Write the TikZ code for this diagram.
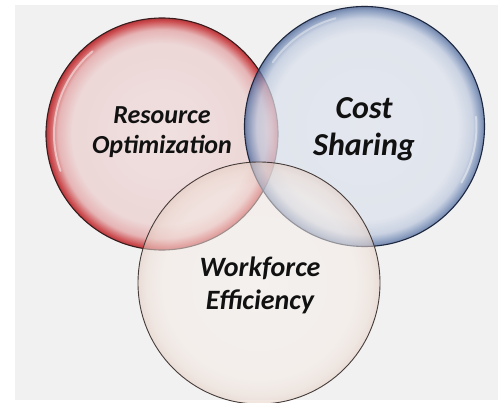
\documentclass[tikz,border=0pt]{standalone}
\usepackage{fontspec}
\setmainfont{Carlito}
\definecolor{pagegrey}{HTML}{F1F1F1}
\definecolor{inktext}{HTML}{111111}
% red bubble
\definecolor{redA}{HTML}{F0E0E0}
\definecolor{redB}{HTML}{EDD7D7}
\definecolor{redC}{HTML}{E6B4B5}
\definecolor{redD}{HTML}{CC4D50}
\definecolor{redE}{HTML}{B4373B}
\definecolor{redline}{HTML}{3A1C1C}
% blue bubble
\definecolor{bluA}{HTML}{DFE4EE}
\definecolor{bluB}{HTML}{DBE1EC}
\definecolor{bluC}{HTML}{BCC8DE}
\definecolor{bluD}{HTML}{5E79AA}
\definecolor{bluE}{HTML}{3D578B}
\definecolor{bluline}{HTML}{1D2840}
% pale bubble
\definecolor{palA}{HTML}{F7F1ED}
\definecolor{palB}{HTML}{F5ECE6}
\definecolor{palC}{HTML}{EEDDD4}
\definecolor{palD}{HTML}{E4CCC0}
\definecolor{palline}{HTML}{463C3A}
\pgfdeclareradialshading{redbubble}{\pgfpointorigin}{%
  color(0bp)=(redA); color(19.5bp)=(redB); color(22.5bp)=(redC);
  color(24.4bp)=(redD); color(25bp)=(redE); color(50bp)=(redE)}
\pgfdeclareradialshading{bluebubble}{\pgfpointorigin}{%
  color(0bp)=(bluA); color(19.5bp)=(bluB); color(22.5bp)=(bluC);
  color(24.4bp)=(bluD); color(25bp)=(bluE); color(50bp)=(bluE)}
\pgfdeclareradialshading{palebubble}{\pgfpointorigin}{%
  color(0bp)=(palA); color(20bp)=(palB); color(23.5bp)=(palC);
  color(25bp)=(palD); color(50bp)=(palD)}
\tikzset{
  bubble/.style={circle, inner sep=0pt, minimum size=#1},
  label text/.style={text=inktext, align=center},
  gloss/.style={white, line width=2pt, line cap=round, opacity=0.5},
}
\begin{document}
\begin{tikzpicture}[x=1pt,y=1pt]
  \useasboundingbox (0,0) rectangle (498,402);
  \fill[white] (0,0) rectangle (498,402);
  \fill[pagegrey] (15,2) rectangle (498,397);

  % three overlapping bubbles
  \node[bubble=232pt, shading=redbubble, draw=redline, line width=1.1pt] (res) at (162,268) {};
  \draw[gloss] (res.center) ++(130:108) arc[start angle=130, end angle=200, radius=108];

  \node[bubble=240pt, shading=bluebubble, fill opacity=0.72, draw=bluline, draw opacity=1, line width=1.1pt] (cost) at (364.5,275.5) {};
  \draw[gloss, opacity=0.4] (cost.center) ++(105:112) arc[start angle=105, end angle=145, radius=112];
  \draw[gloss, opacity=0.45] (cost.center) ++(-30:112) arc[start angle=-30, end angle=5, radius=112];

  \node[bubble=242pt, shading=palebubble, fill opacity=0.55, draw=palline, draw opacity=1, line width=0.9pt] (work) at (259,119) {};

  % labels
  \node[label text, font=\fontsize{26}{30}\selectfont\bfseries\itshape] (resT) at (162,270) {Resource\\Optimization};
  \node[label text, font=\fontsize{32}{37}\selectfont\bfseries\itshape] (costT) at (364,273) {Cost\\Sharing};
  \node[label text, font=\fontsize{28}{33}\selectfont\bfseries\itshape] (workT) at (260,116.5) {Workforce\\Efficiency};
\end{tikzpicture}
\end{document}
